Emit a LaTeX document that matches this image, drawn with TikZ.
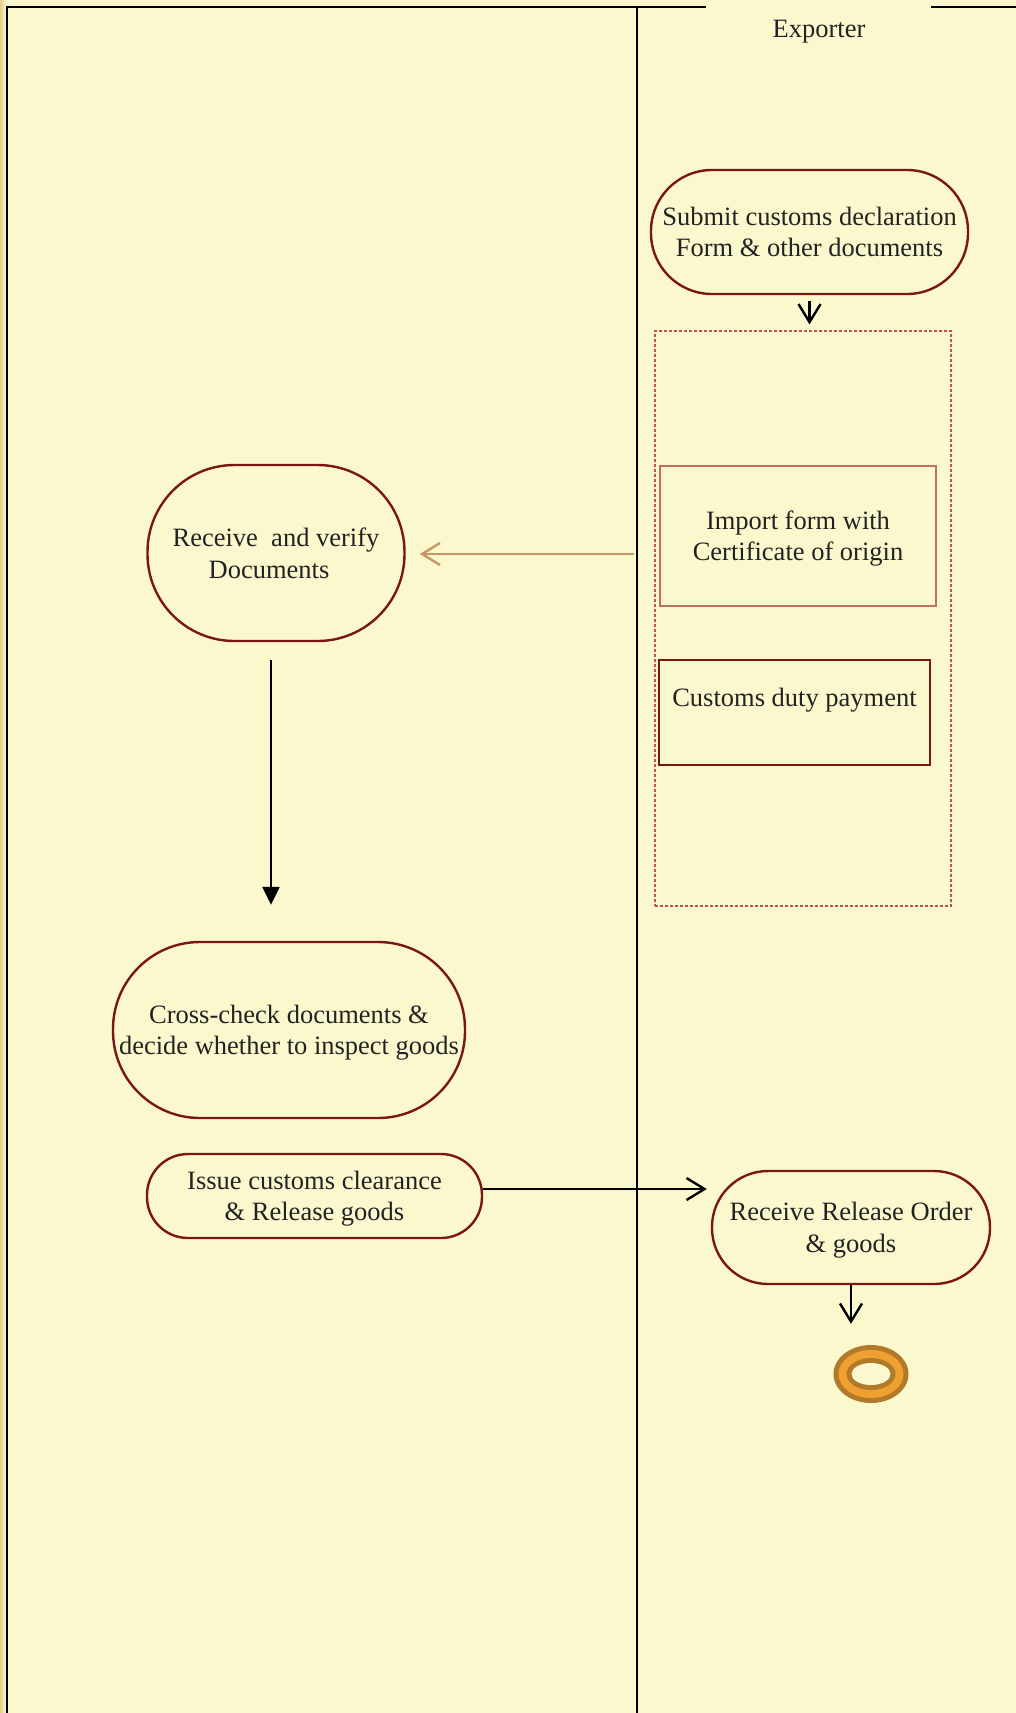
\documentclass[tikz,border=0pt]{standalone}
\usepackage{fontspec}
\setmainfont{Liberation Serif}
\usetikzlibrary{arrows.meta,shapes.geometric}
\definecolor{bg}{HTML}{FCF8CE}
\definecolor{strip}{HTML}{E6CD88}
\definecolor{nodered}{HTML}{7A1616}
\definecolor{lightred}{HTML}{C07060}
\definecolor{dotred}{HTML}{C05050}
\definecolor{tanarrow}{HTML}{C8966A}
\definecolor{ringdark}{HTML}{B07A2A}
\definecolor{ringorange}{HTML}{F0A030}
\definecolor{txt}{HTML}{222222}
\newcommand\dgfont{\fontsize{26.5}{31.5}\selectfont}
\begin{document}
\begin{tikzpicture}[x=1pt,y=-1pt,
  stad/.style={draw=nodered, line width=2.4pt, rounded corners=#1, align=center, font=\dgfont, text=txt, inner sep=0pt, text depth=-1.5pt},
  lane/.style={draw=black, line width=2.2pt},
  openarr/.style={draw=black, line width=2.4pt, -{Straight Barb[length=18pt,width=22pt,line width=2.4pt]}},
  tanarr/.style={draw=tanarrow, line width=2.4pt, -{Straight Barb[length=18pt,width=22pt,line width=2.4pt]}},
  fillarr/.style={draw=black, line width=2.4pt, -{Triangle[length=18pt,width=17pt]}},
  lbl/.style={font=\dgfont, text=txt, align=center, inner sep=0pt}
]
\useasboundingbox (0,0) rectangle (1016,1713);
\fill[bg] (0,0) rectangle (1016,1713);
\shade[left color=strip, right color=bg] (0,0) rectangle (6,1713);

% lanes
\draw[lane] (7,1713) -- (7,7) -- (706,7);
\draw[lane] (931,7) -- (1016,7);
\draw[lane] (637,7) -- (637,1713);
\node[lbl] (hdr) at (819,32) {Exporter};

% nodes
\node[stad=61pt, minimum width=317pt, minimum height=124pt] (submit) at (809.5,232)
  {Submit customs declaration\\Form \& other documents};
\node[draw=dotred, dash pattern=on 3pt off 2pt, line width=1.2pt, minimum width=296pt, minimum height=575pt, inner sep=0pt] (grp) at (803,618.5) {};
\node[draw=lightred, line width=1.4pt, minimum width=276pt, minimum height=140pt, inner sep=0pt] (imp) at (798,536) {};
\node[lbl] (imptxt) at ([yshift=-2.5pt]imp.center) {Import form with\\Certificate of origin};
\node[draw=nodered, line width=2.8pt, minimum width=271pt, minimum height=105pt, inner sep=0pt] (duty) at (794.5,712.5) {};
\node[lbl] (dutytxt) at ([yshift=12pt]duty.center) {Customs duty payment};

\node[stad=87pt, minimum width=257pt, minimum height=176pt] (recv) at (276,553)
  {Receive~ and verify\\Documents\kern14pt};
\node[stad=87pt, minimum width=352pt, minimum height=176pt] (cross) at (289,1030)
  {Cross-check documents \&\\decide whether to inspect goods};
\node[stad=41pt, minimum width=335pt, minimum height=84pt] (issue) at (314.5,1196)
  {Issue customs clearance\\\& Release goods};
\node[stad=56pt, minimum width=278pt, minimum height=113pt] (rel) at (851,1227.5)
  {Receive Release Order\\\& goods};

% end node
\node[ellipse, fill=ringdark, minimum width=75pt, minimum height=58pt, inner sep=0pt] (endn) at (871,1374) {};
\fill[ringorange] (endn.center) ellipse [x radius=32.5, y radius=24];
\fill[ringdark] (endn.center) ellipse [x radius=24.5, y radius=16];
\fill[bg] (endn.center) ellipse [x radius=19.5, y radius=11];

% connectors
\coordinate (oa) at (634,554);
\draw[openarr, shorten <=6pt] (submit.south) -- ([yshift=6pt]submit.south |- grp.north);
\draw[tanarr, shorten >=14pt] (oa) -- (recv.east |- oa);
\draw[fillarr, shorten <=18pt, shorten >=36pt] ([xshift=-5pt]recv.south) -- ([xshift=-5pt]recv.south |- cross.north);
\draw[openarr, shorten >=4pt] ([yshift=7pt]issue.east) -- ([yshift=7pt]issue.east -| rel.west);
\draw[openarr, shorten >=21pt] (rel.south) -- (rel.south |- endn.north);
\end{tikzpicture}
\end{document}
